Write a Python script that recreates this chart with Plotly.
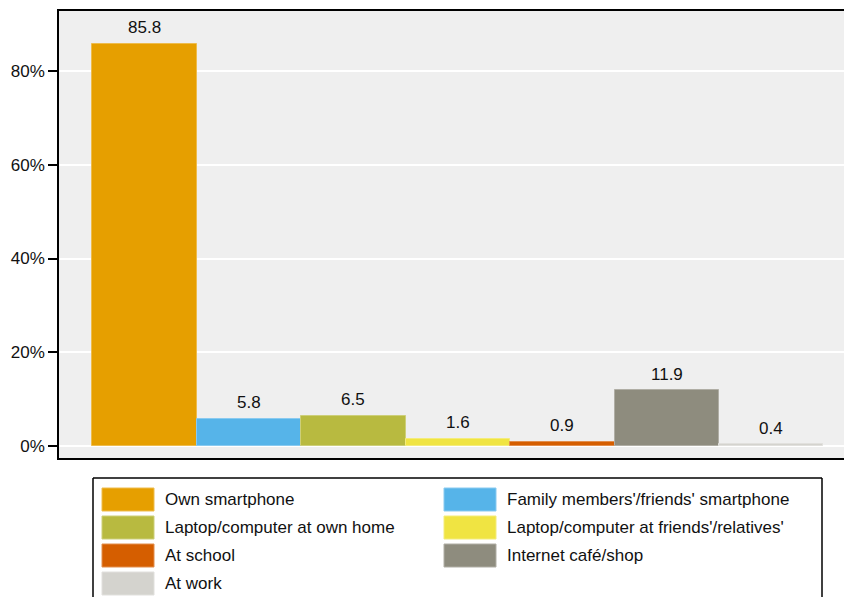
import plotly.graph_objects as go

# Where people access the internet (% of respondents)
categories = [
    "Own smartphone",
    "Family members'/friends' smartphone",
    "Laptop/computer at own home",
    "Laptop/computer at friends'/relatives'",
    "At school",
    "Internet café/shop",
    "At work",
]
values = [85.8, 5.8, 6.5, 1.6, 0.9, 11.9, 0.4]
colors = ["#E69F00", "#56B4E9", "#B8BA40", "#F0E442", "#D55E00", "#8E8C7E", "#D4D3CE"]
y_ticks = [0, 20, 40, 60, 80]
y_tick_labels = ["0%", "20%", "40%", "60%", "80%"]

W, H = 844, 597
L, R, T, B = 59, 0, 11, 139
PW, PH = W - L - R, H - T - B
FONT = "Liberation Sans, Arial, sans-serif"


def lighten(hex_color, f=0.3):
    h = hex_color.lstrip("#")
    r, g, b = (int(h[i:i + 2], 16) for i in (0, 2, 4))
    r, g, b = (round(c + (255 - c) * f) for c in (r, g, b))
    return f"rgb({r},{g},{b})"


def px_x(px):
    return (px - L) / PW


def px_y(py):
    return (H - B - py) / PH


fig = go.Figure()
for i, (cat, val, col) in enumerate(zip(categories, values, colors)):
    fig.add_trace(go.Bar(
        x=[i], y=[val], name=cat, width=1,
        marker=dict(color=col, line=dict(color=lighten(col), width=1)),
        showlegend=False, hoverinfo="skip",
    ))
    fig.add_annotation(
        x=i, y=val, text=f"{val}", showarrow=False,
        yanchor="middle", yshift=16,
        font=dict(family=FONT, size=17, color="#111111"),
    )

# Legend box drawn in two columns below the plot
shapes = [
    dict(type="line", xref="paper", yref="paper",
         x0=px_x(93), x1=px_x(822), y0=px_y(478), y1=px_y(478),
         line=dict(color="black", width=1.5)),
    dict(type="line", xref="paper", yref="paper",
         x0=px_x(93), x1=px_x(93), y0=px_y(478), y1=px_y(640),
         line=dict(color="black", width=1.5)),
    dict(type="line", xref="paper", yref="paper",
         x0=px_x(822), x1=px_x(822), y0=px_y(478), y1=px_y(640),
         line=dict(color="black", width=1.5)),
]
col_x = [102, 444]
for k, (cat, col) in enumerate(zip(categories, colors)):
    row, c = divmod(k, 2)
    x0 = col_x[c]
    y0 = 488 + 28 * row
    shapes.append(dict(
        type="rect", xref="paper", yref="paper",
        x0=px_x(x0), x1=px_x(x0 + 52), y0=px_y(y0), y1=px_y(y0 + 23),
        fillcolor=col, line=dict(color=lighten(col), width=1),
    ))
    fig.add_annotation(
        xref="paper", yref="paper", x=px_x(x0 + 61), y=px_y(y0 + 11.5),
        text=cat, showarrow=False, xanchor="left", yanchor="middle",
        font=dict(family=FONT, size=17, color="#111111"),
    )

fig.update_layout(
    width=W, height=H,
    margin=dict(l=L, r=R, t=T, b=B, pad=0),
    paper_bgcolor="white", plot_bgcolor="#EFEFEF",
    bargap=0, shapes=shapes,
    font=dict(family=FONT, size=17, color="#111111"),
)
fig.update_xaxes(
    range=[-0.819, 6.697], showticklabels=False, showgrid=False,
    zeroline=False, showline=True, mirror=True,
    linecolor="black", linewidth=1.5, ticks="",
)
fig.update_yaxes(
    range=[-2.56, 92.8], tickvals=y_ticks, ticktext=y_tick_labels,
    showgrid=True, gridcolor="white", gridwidth=1.5, zeroline=False,
    showline=True, linecolor="black", linewidth=1.5,
    ticks="outside", ticklen=9, tickwidth=1.5, tickcolor="black",
    tickfont=dict(family=FONT, size=17, color="#111111"),
)

fig.write_html("out.html")
